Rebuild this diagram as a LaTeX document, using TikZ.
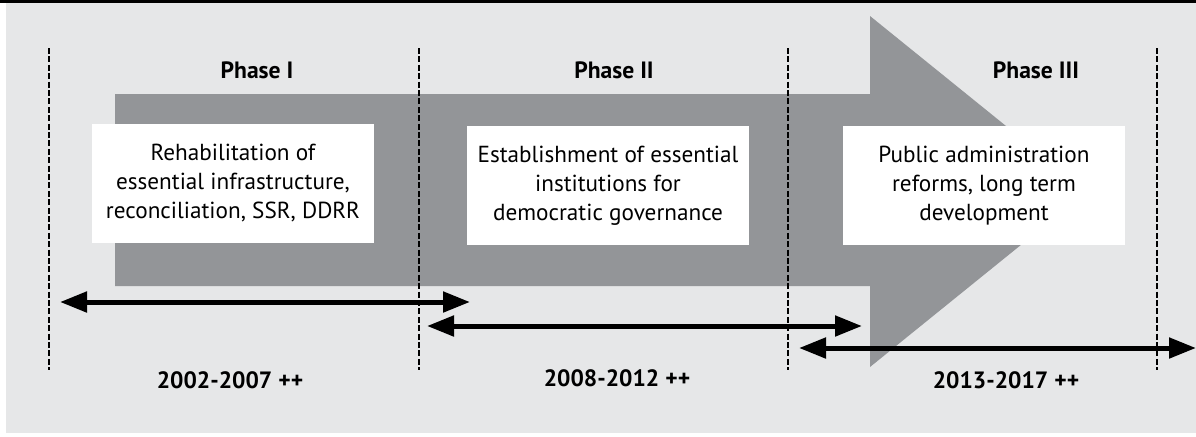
\documentclass[tikz,border=0pt]{standalone}
\usepackage{fontspec}
\setmainfont{PT Sans}
\usetikzlibrary{arrows.meta}

\definecolor{panelgray}{HTML}{E6E7E8}
\definecolor{arrowgray}{HTML}{939598}

\begin{document}
\begin{tikzpicture}[x=0.5pt, y=-0.5pt,
  phasebox/.style={fill=white, minimum width=141pt, minimum height=59.5pt,
    inner sep=0pt, align=center, font=\fontsize{11.6}{14.5}\selectfont},
  phaselabel/.style={font=\fontsize{11.8}{12}\selectfont\bfseries},
  period/.style={line width=2.5pt,
    {Triangle[length=13.5pt,width=10pt]}-{Triangle[length=13.5pt,width=10pt]}},
  divider/.style={line width=1pt, dash pattern=on 3pt off 1.2pt}]
  \useasboundingbox (0,0) rectangle (1196,436);

  % Draw panel
  \fill[panelgray] (6,3) rectangle (1196,433);
  \fill[black] (0,0) rectangle (1196,3);

  % Big arrow
  \fill[arrowgray] (115,94) -- (870,94) -- (870,16) -- (1087,191.5)
    -- (870,367) -- (870,286) -- (115,286) -- cycle;

  % Phase dividers
  \foreach \x in {49,419,788,1157}
    \draw[divider] (\x,48) -- (\x,370);

  % Phases
  \node[phaselabel] (ph1) at (257,70) {Phase I};
  \node[phaselabel] (ph2) at (614,70) {Phase II};
  \node[phaselabel] (ph3) at (1036,70) {Phase III};

  \node[phasebox] (box1) at (233,183.5)
    {Rehabilitation of\\essential infrastructure,\\reconciliation, SSR, DDRR};
  \node[phasebox] (box2) at (608,185.5)
    {Establishment of essential\\institutions for\\democratic governance};
  \node[phasebox] (box3) at (984,185.5)
    {Public administration\\reforms, long term\\development};

  % Periods
  \coordinate (s1) at (60,302);  \coordinate (e1) at (470,302);
  \coordinate (s2) at (427,326); \coordinate (e2) at (862,326);
  \coordinate (s3) at (799,348); \coordinate (e3) at (1196,348);
  \draw[period] (s1) -- (e1);
  \draw[period] (s2) -- (e2);
  \draw[period] (s3) -- (e3);

  \node[phaselabel] (yr1) at (230,380) {2002-2007 ++};
  \node[phaselabel] (yr2) at (617,378) {2008-2012 ++};
  \node[phaselabel] (yr3) at (1006,380) {2013-2017 ++};
\end{tikzpicture}
\end{document}
